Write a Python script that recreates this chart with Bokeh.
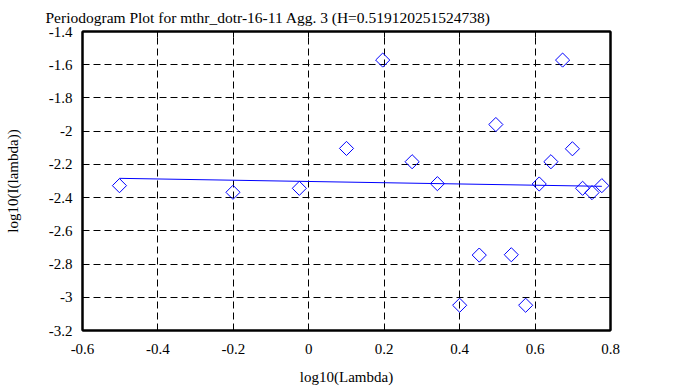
import math
from bokeh.plotting import figure
from bokeh.models import Range1d, FixedTicker, LinearAxis
from bokeh.embed import file_html
from bokeh.resources import INLINE

# data
x_vals = [-0.502, -0.201, -0.025, 0.100, 0.196, 0.274, 0.341, 0.400, 0.452, 0.496,
          0.537, 0.575, 0.611, 0.642, 0.673, 0.699, 0.726, 0.751, 0.777]
y_vals = [-2.328, -2.368, -2.344, -2.104, -1.572, -2.184, -2.316, -3.048, -2.746, -1.960,
          -2.744, -3.048, -2.318, -2.184, -1.572, -2.106, -2.344, -2.370, -2.328]
fit_x = [-0.502, 0.777]
fit_y = [-2.284, -2.332]

x_ticks = [-0.6, -0.4, -0.2, 0.0, 0.2, 0.4, 0.6, 0.8]
x_tick_labels = ["-0.6", "-0.4", "-0.2", "0", "0.2", "0.4", "0.6", "0.8"]
y_ticks = [-3.2, -3.0, -2.8, -2.6, -2.4, -2.2, -2.0, -1.8, -1.6, -1.4]
y_tick_labels = ["-3.2", "-3", "-2.8", "-2.6", "-2.4", "-2.2", "-2", "-1.8", "-1.6", "-1.4"]

title_text = "Periodogram Plot for mthr_dotr-16-11 Agg. 3 (H=0.519120251524738)"
x_label = "log10(Lambda)"
y_label = "log10(I(lambda))"

FONT = "Liberation Serif"

p = figure(width=678, height=387, output_backend="svg", toolbar_location=None,
           x_range=Range1d(-0.6, 0.8), y_range=Range1d(-3.2, -1.4),
           min_border_left=82, min_border_right=68, min_border_top=31, min_border_bottom=56,
           x_axis_label=x_label, y_axis_label=y_label)

p.background_fill_color = "white"
p.border_fill_color = "white"
p.outline_line_color = "black"
p.outline_line_width = 2

p.title.text = title_text
p.title.align = "left"
p.title.offset = -37
p.title.standoff = 12
p.title.text_font = FONT
p.title.text_font_size = "15.5px"
p.title.text_font_style = "normal"
p.title.text_color = "black"

xt = FixedTicker(ticks=x_ticks)
yt = FixedTicker(ticks=y_ticks)
xo = dict(zip(x_ticks, x_tick_labels))
yo = dict(zip(y_ticks, y_tick_labels))

for ax in p.xaxis:
    ax.ticker = xt
    ax.major_label_overrides = xo
for ax in p.yaxis:
    ax.ticker = yt
    ax.major_label_overrides = yo

for ax in list(p.xaxis) + list(p.yaxis):
    ax.axis_line_width = 2
    ax.axis_line_color = "black"
    ax.major_tick_in = 6
    ax.major_tick_out = 0
    ax.minor_tick_line_color = None
    ax.major_label_text_font = FONT
    ax.major_label_text_font_size = "15px"
    ax.major_label_text_color = "black"
    ax.axis_label_text_font = FONT
    ax.axis_label_text_font_size = "15px"
    ax.axis_label_text_font_style = "normal"
    ax.axis_label_text_color = "black"
    ax.major_tick_line_width = 1

p.xaxis.major_label_standoff = 13
p.xaxis.axis_label_standoff = 12
p.yaxis.major_label_standoff = 10
p.yaxis.axis_label_standoff = 25

top_ax = LinearAxis(ticker=xt, major_tick_in=6, major_tick_out=0,
                    minor_tick_line_color=None, major_label_standoff=0,
                    major_label_overrides={t: "" for t in x_ticks},
                    axis_line_width=2)
right_ax = LinearAxis(ticker=yt, major_tick_in=6, major_tick_out=0,
                      minor_tick_line_color=None, major_label_standoff=0,
                      major_label_overrides={t: "" for t in y_ticks},
                      axis_line_width=2)
p.add_layout(top_ax, "above")
p.add_layout(right_ax, "right")

p.xgrid.ticker = xt
p.ygrid.ticker = yt
for g in list(p.xgrid) + list(p.ygrid):
    g.grid_line_color = "black"
    g.grid_line_width = 1
    g.grid_line_dash = "7 4"
    g.grid_line_alpha = 1.0

p.line(fit_x, fit_y, line_color="blue", line_width=1)
p.scatter(x_vals, y_vals, marker="square", angle=math.pi / 4, size=10,
          fill_color=None, line_color="blue", line_width=1)

open("out.html", "w").write(file_html(p, INLINE))
